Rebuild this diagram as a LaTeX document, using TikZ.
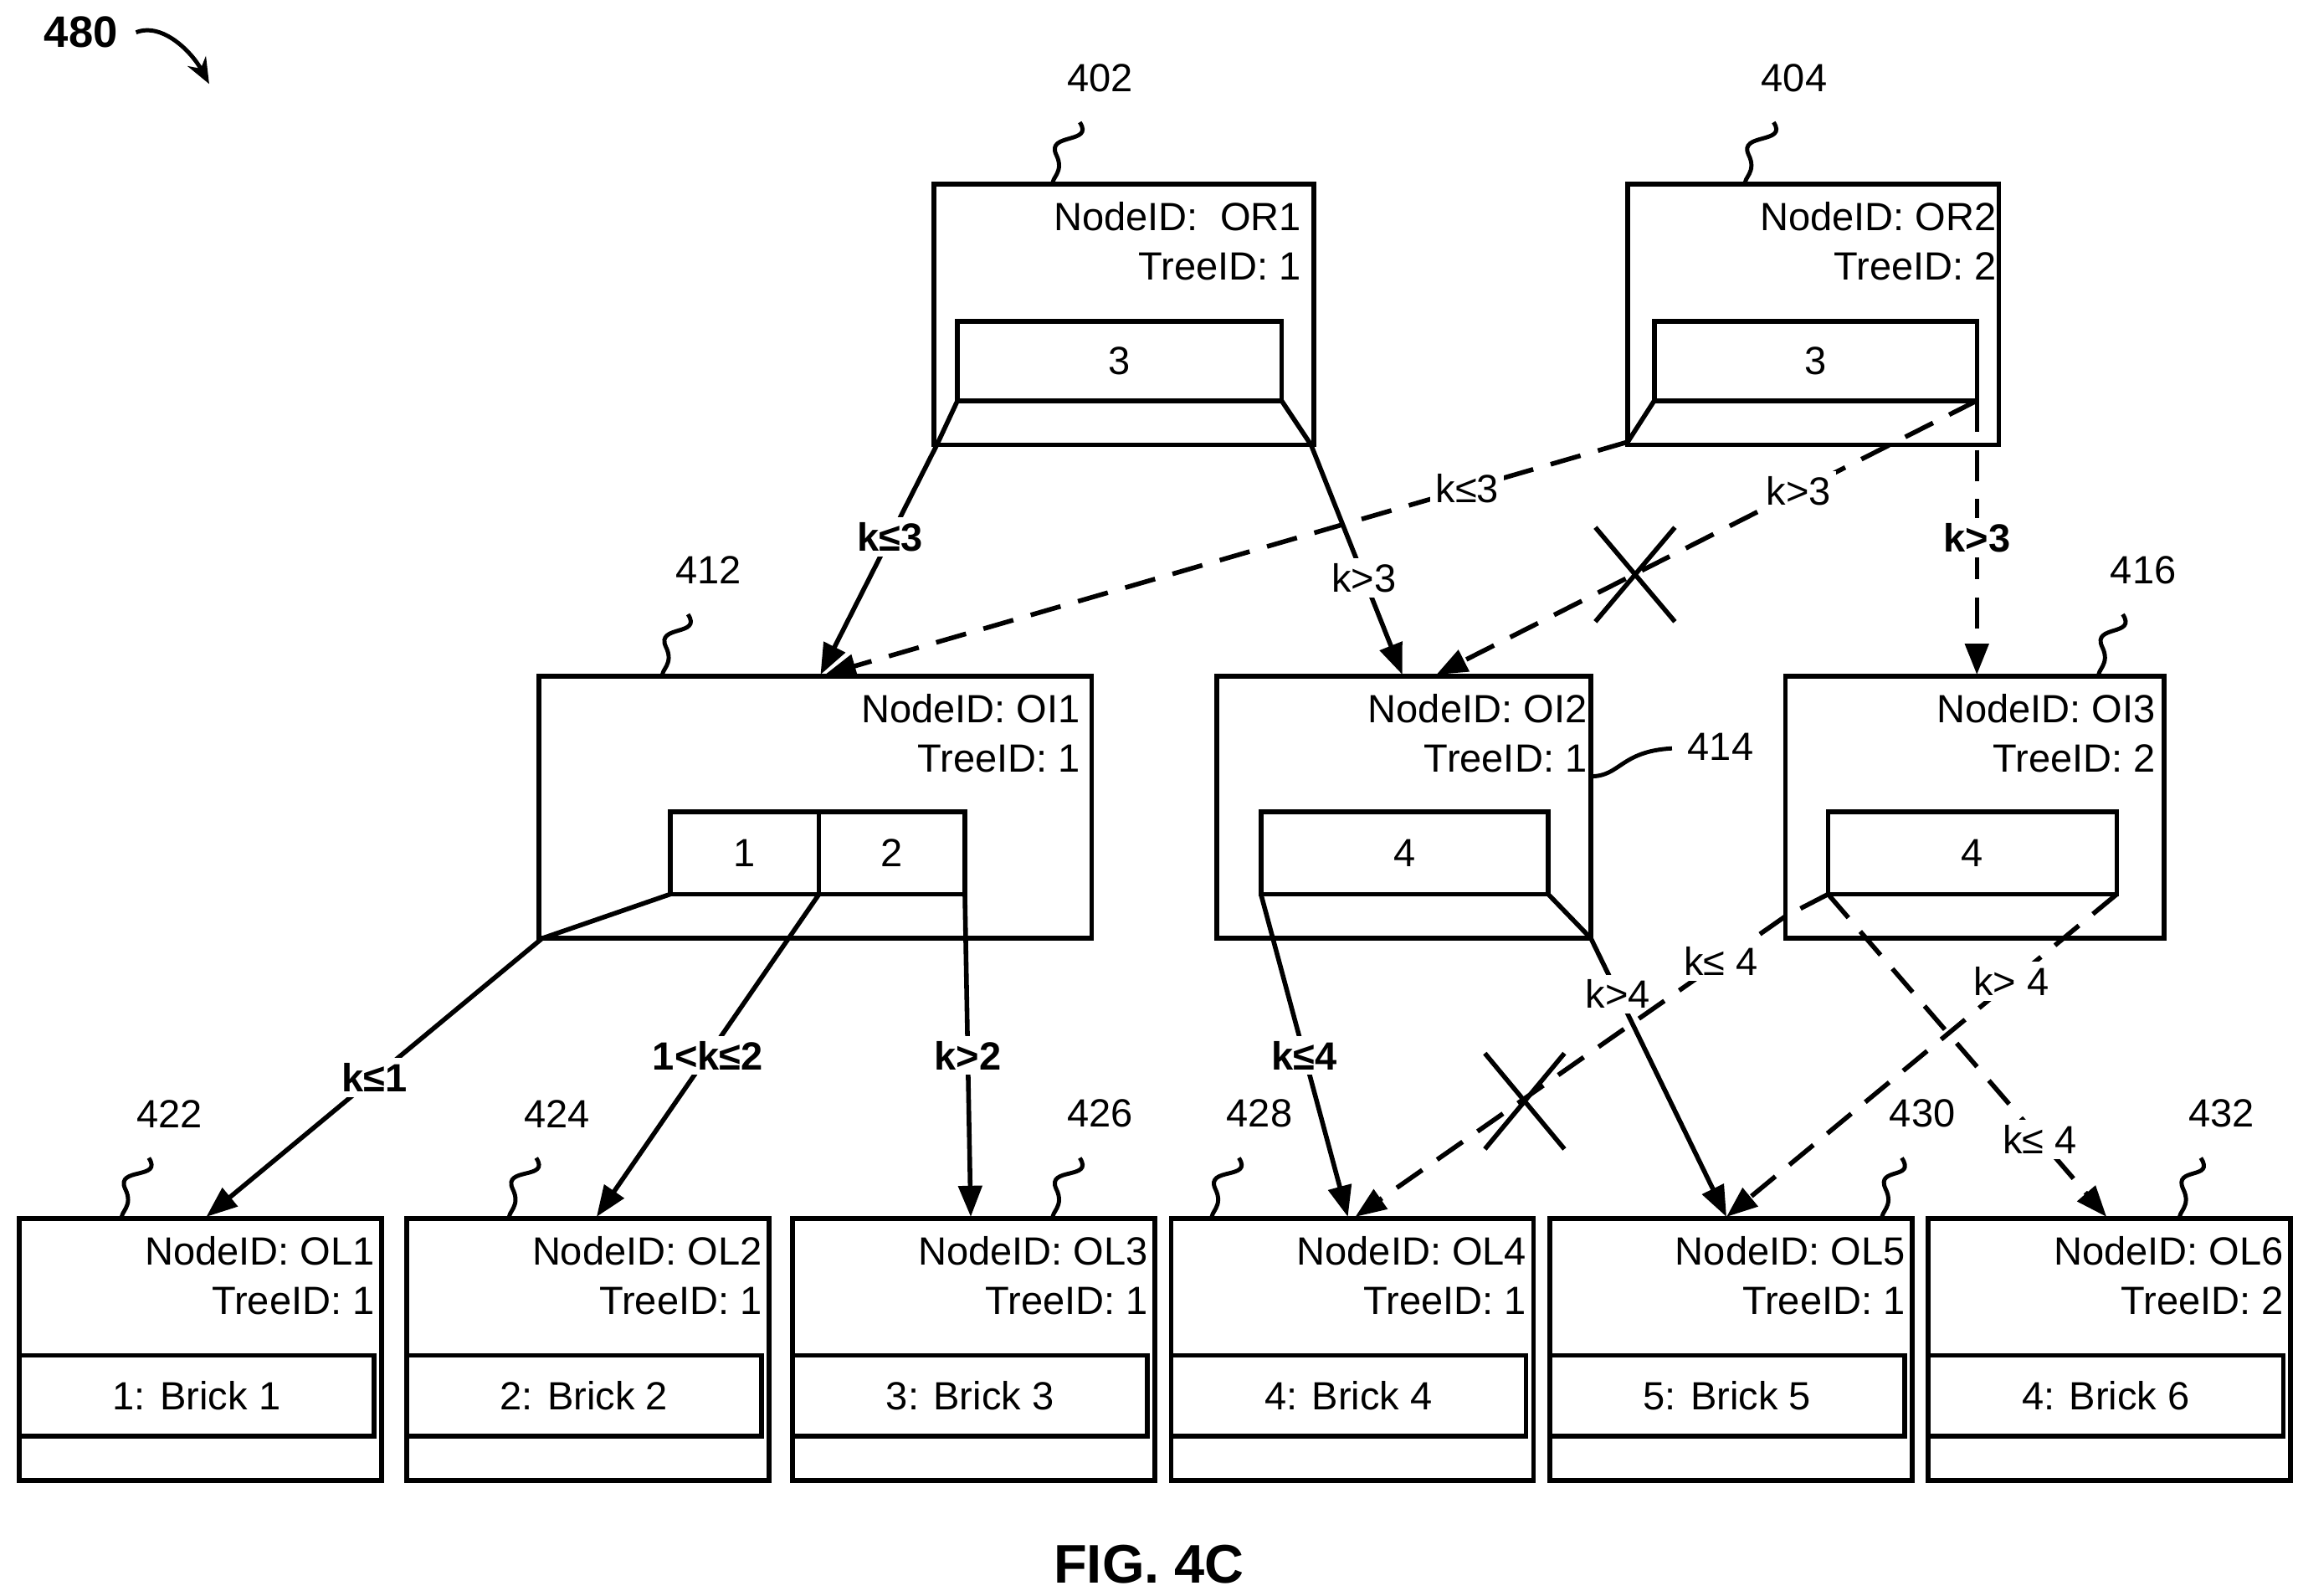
\documentclass[tikz,border=0pt]{standalone}
\usepackage{fontspec}
\setmainfont{Liberation Sans}
\usetikzlibrary{arrows.meta}
\begin{document}
\begin{tikzpicture}[x=0.01cm,y=-0.01cm,
  every node/.style={font=\fontsize{7.6}{9}\selectfont},
  box/.style={draw,line width=0.9pt,rectangle,inner sep=0,outer sep=0},
  ln/.style={line width=0.9pt},
  ar/.style={ln,-{Triangle[length=6pt,width=4.5pt]}},
  dsh/.style={dash pattern=on 6pt off 3.5pt},
  lab/.style={font=\bfseries\fontsize{7.6}{9}\selectfont,fill=white,inner sep=1pt},
  labn/.style={fill=white,inner sep=1pt},
  sq/.style={line width=0.8pt}]
\useasboundingbox (0,0) rectangle (1560,1083);
\newcommand\bx[5]{\node[box,minimum width={(#4-#2)*0.01cm},minimum height={(#5-#3)*0.01cm}] (#1) at ({(#2+#4)/2},{(#3+#5)/2}) {};}
\newcommand\txt[4]{\node[anchor=east,inner sep=0] (#1a) at (#2,#3) {NodeID: #4};}
% top
\bx{or1}{634}{125}{892}{302}\bx{or1i}{650}{218}{870}{272}
\node at (or1i) {3};
\node[anchor=east,inner sep=0] (or1t) at (884,147) {NodeID:\ \ OR1};
\node[anchor=east,inner sep=0] (or1u) at (884,181) {TreeID: 1};
\bx{or2}{1105}{125}{1357}{302}\bx{or2i}{1123}{218}{1342}{272}
\node at (or2i) {3};
\node[anchor=east,inner sep=0] (or2t) at (1356,147) {NodeID: OR2};
\node[anchor=east,inner sep=0] (or2u) at (1356,181) {TreeID: 2};
% middle
\bx{oi1}{366}{459}{741}{637}\bx{oi1a}{455}{551}{556}{607}\bx{oi1b}{556}{551}{655}{607}
\node at (oi1a) {1};\node at (oi1b) {2};
\node[anchor=east,inner sep=0] (oi1t) at (734,481) {NodeID: OI1};
\node[anchor=east,inner sep=0] (oi1u) at (734,515) {TreeID: 1};
\bx{oi2}{826}{459}{1080}{637}\bx{oi2i}{856}{551}{1051}{607}
\node at (oi2i) {4};
\node[anchor=east,inner sep=0] (oi2t) at (1078,481) {NodeID: OI2};
\node[anchor=east,inner sep=0] (oi2u) at (1078,515) {TreeID: 1};
\bx{oi3}{1212}{459}{1469}{637}\bx{oi3i}{1241}{551}{1437}{607}
\node at (oi3i) {4};
\node[anchor=east,inner sep=0] (oi3t) at (1464,481) {NodeID: OI3};
\node[anchor=east,inner sep=0] (oi3u) at (1464,515) {TreeID: 2};
% bottom
\foreach \n/\x/\id/\t/\b in {1/13/OL1/1/1: Brick 1,2/276/OL2/1/2: Brick 2,3/538/OL3/1/3: Brick 3,4/795/OL4/1/4: Brick 4,5/1052/OL5/1/5: Brick 5,6/1309/OL6/2/4: Brick 6}{
  \bx{ol\n}{\x}{827}{\x+246}{1005}
  \bx{ol\n i}{\x+16}{920}{\x+225}{975}
  \node at (ol\n i) {\b};
  \node[anchor=east,inner sep=0] (ol\n t) at (\x+242,849) {NodeID: \id};
  \node[anchor=east,inner sep=0] (ol\n u) at (\x+242,883) {TreeID: \t};
}
% corner coordinates
\coordinate (a1) at (636,302);\coordinate (a2) at (890,302);
\coordinate (b1) at (1105,300);\coordinate (b2) at (1342,300);
\coordinate (c1) at (368,637);\coordinate (c2) at (1080,637);\coordinate (c3) at (1212,622);
\draw[ln] (or1i.south west)--(a1); \draw[ln] (or1i.south east)--(a2);
\draw[ln] (or2i.south west)--(b1);
\draw[ln] (oi1a.south west)--(c1); \draw[ln] (oi2i.south east)--(c2);
% edges
\draw[ar] (a1)--(557,458) node[lab,pos=0.4] {k≤3};
\draw[ar] (a2)--(952,458) node[labn,pos=0.58] {k>3};
\draw[ar,dsh] (b1)--(560,458) node[labn,pos=0.2] {k≤3};
\draw[ar,dsh] (or2i.south east)--(975,458) node[labn,pos=0.33] {k>3};
\draw[ar,dsh] (or2i.south east)--(1342,458) node[lab,pos=0.5] {k>3};
\draw[ar] (c1)--(140,826) node[lab,pos=0.5] {k≤1};
\draw[ar] (oi1a.south east)--(405,826) node[lab,pos=0.5] {1<k≤2};
\draw[ar] (oi1b.south east)--(659,826) node[lab,pos=0.5] {k>2};
\draw[ar] (oi2i.south west)--(915,826) node[lab,pos=0.5] {k≤4};
\draw[ar] (c2)--(1172,826) node[labn,pos=0.2] {k>4};
\draw[ln,dsh] (oi3i.south west)--(c3);
\draw[ar,dsh] (c3)--(920,826) node[labn,pos=0.15] {k≤ 4};
\draw[ar,dsh] (oi3i.south east)--(1172,826) node[labn,pos=0.27] {k> 4};
\draw[ar,dsh] (oi3i.south west)--(1430,826) node[labn,pos=0.76] {k≤ 4};
% crosses
\draw[ln] (1083,358)--(1137,422) (1083,422)--(1137,358);
\draw[ln] (1008,715)--(1062,780) (1008,780)--(1062,715);
% reference numerals
\foreach \t/\x/\y/\ex/\ey in {402/747/53/715/125,404/1218/53/1185/125,412/481/387/450/459,416/1455/387/1425/459,422/115/756/83/827,424/378/756/346/827,426/747/756/715/827,428/855/756/823/827,430/1305/756/1278/827,432/1508/756/1480/827}{
  \node (r\t) at (\x,\y) {\t};
  \draw[sq] (\x-14,\y+30) .. controls (\x-4,\y+45) and (\ex-5,\ey-35) .. (\ex+2,\ey-20) .. controls (\ex+8,\ey-8) and (\ex-2,\ey-4) .. (\ex,\ey);
}
\node (r414) at (1168,507) {414};
\draw[sq] (1080,527) .. controls (1100,527) and (1100,510) .. (1135,508);
\node[font=\bfseries\fontsize{8.5}{10}\selectfont] (r480) at (55,22) {480};
\draw[sq,-{Stealth[length=5pt,width=4pt]}] (r480.east) .. controls (110,15) and (130,35) .. (142,57);
\node[font=\bfseries\fontsize{10.5}{12}\selectfont] (fig) at (780,1062) {FIG. 4C};
\end{tikzpicture}
\end{document}
